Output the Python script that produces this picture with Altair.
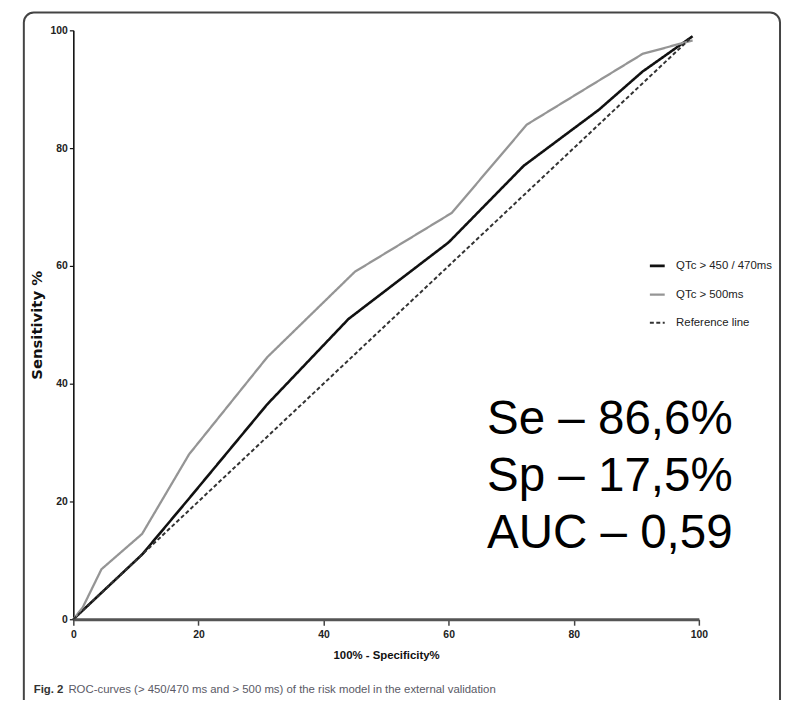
import altair as alt
import pandas as pd

SANS = "Liberation Sans, Arial, sans-serif"

series_names = ["QTc > 450 / 470ms", "QTc > 500ms", "Reference line"]

fpr_450 = [0, 1.5, 4.5, 11, 18.5, 31, 44, 60, 72, 84, 91, 99]
tpr_450 = [0, 1.5, 4.5, 11, 20.5, 36.5, 51, 64, 77, 86.5, 93, 99]

fpr_500 = [0, 1.5, 4.5, 11, 18.5, 31, 45, 60.5, 72.5, 91, 99]
tpr_500 = [0, 2, 8.5, 14.5, 28, 44.5, 59, 69, 84, 96, 98.3]

fpr_ref = [0, 98.5]
tpr_ref = [0, 98.5]

x_ticks = [0, 20, 40, 60, 80, 100]
y_ticks = [0, 20, 40, 60, 80, 100]

stats_text = ["Se – 86,6%", "Sp – 17,5%", "AUC – 0,59"]
caption_bold = "Fig. 2"
caption_rest = "ROC-curves (> 450/470 ms and > 500 ms) of the risk model in the external validation"

color_range = ["#111111", "#959595", "#333333"]
dash_range = [[1, 0], [1, 0], [4, 2.5]]
width_range = [2.6, 2.0, 1.1]

rows = []
for name, xs, ys in zip(series_names, [fpr_450, fpr_500, fpr_ref], [tpr_450, tpr_500, tpr_ref]):
    for i, (xv, yv) in enumerate(zip(xs, ys)):
        rows.append({"series": name, "fpr": xv, "tpr": yv, "order": i})
df = pd.DataFrame(rows)

legend_cfg = dict(
    orient="none", legendX=581, legendY=229, title=None, symbolType="stroke",
    symbolSize=225, symbolStrokeWidth=2.5, labelFont=SANS, labelFontSize=11.5,
    labelColor="#222222", labelOffset=10, rowPadding=14, padding=0,
)

lines = alt.Chart(df).mark_line(clip=False).encode(
    x=alt.X("fpr:Q", scale=alt.Scale(domain=[0, 100], nice=False, zero=False),
            axis=alt.Axis(values=x_ticks, grid=False, domainColor="#555555", domainWidth=3,
                          tickColor="#444444", tickWidth=1.5, tickSize=6,
                          labelFont=SANS, labelFontWeight="bold", labelFontSize=10.5,
                          labelColor="#222222", labelPadding=4, labelFlush=False,
                          title="100% - Specificity%", titleFont=SANS, titleFontSize=11.5,
                          titleFontWeight="bold", titleColor="#111111", titlePadding=10)),
    y=alt.Y("tpr:Q", scale=alt.Scale(domain=[0, 100], nice=False, zero=False),
            axis=alt.Axis(values=y_ticks, grid=False, domainColor="#111111", domainWidth=1.6,
                          tickColor="#111111", tickWidth=1.2, tickSize=4,
                          labelFont=SANS, labelFontWeight="bold", labelFontSize=10.5,
                          labelColor="#222222", labelPadding=2, labelFlush=False,
                          title="Sensitivity %", titleFont="DejaVu Sans", titleFontSize=15,
                          titleFontWeight="bold", titleColor="#111111", titlePadding=6)),
    color=alt.Color("series:N", scale=alt.Scale(domain=series_names, range=color_range),
                    legend=alt.Legend(**legend_cfg)),
    strokeDash=alt.StrokeDash("series:N", scale=alt.Scale(domain=series_names, range=dash_range),
                              legend=alt.Legend(**legend_cfg)),
    strokeWidth=alt.StrokeWidth("series:N", scale=alt.Scale(domain=series_names, range=width_range),
                                legend=None),
    order="order:Q",
)

one = pd.DataFrame({"k": [0]})

stats = alt.Chart(one).mark_text(
    text=stats_text, font=SANS, fontSize=48,
    lineHeight=57.5, align="left", baseline="alphabetic", color="#000000",
).encode(x=alt.value(418), y=alt.value(408))

cap1 = alt.Chart(one).mark_text(
    text=caption_bold, font=SANS, fontSize=11.5, fontWeight="bold",
    align="left", baseline="alphabetic", color="#333333",
).encode(x=alt.value(-40), y=alt.value(670))

cap2 = alt.Chart(one).mark_text(
    text=caption_rest, font=SANS, fontSize=11.5,
    align="left", baseline="alphabetic", color="#5a5a66",
).encode(x=alt.value(-5), y=alt.value(670))

frame = alt.Chart(one).mark_rect(
    fill="transparent", stroke="#444444", strokeWidth=2, cornerRadius=10,
).encode(x=alt.value(-50), x2=alt.value(714), y=alt.value(-18), y2=alt.value(700))

chart = alt.layer(frame, lines, stats, cap1, cap2).properties(
    width=632, height=595,
    autosize=alt.AutoSizeParams(type="none"),
    padding={"left": 66, "top": 19, "right": 84, "bottom": 78},
).configure_view(stroke=None)

chart.save("out.html", embed_options={"renderer": "svg", "actions": False})
